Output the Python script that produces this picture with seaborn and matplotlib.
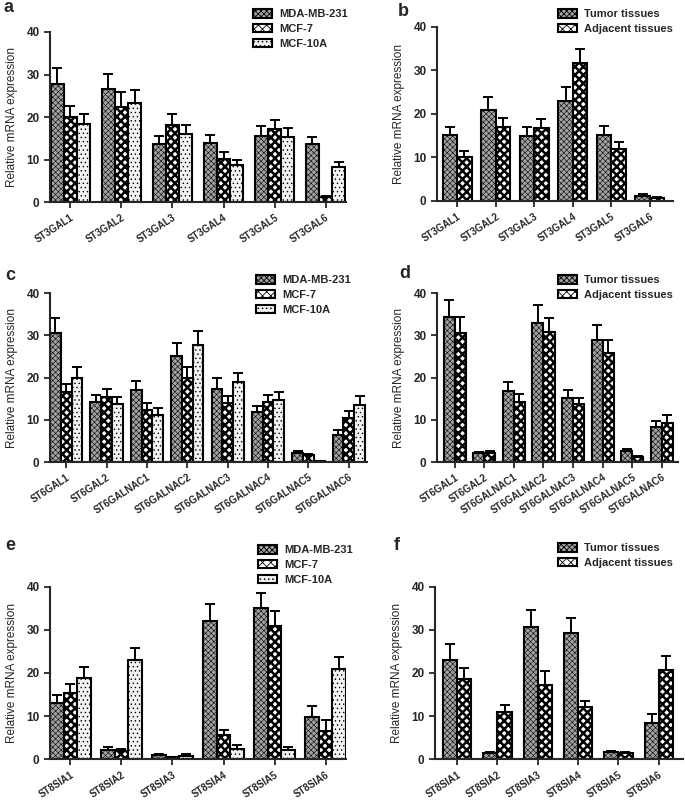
import numpy as np
import pandas as pd
import matplotlib
matplotlib.use("Agg")
import matplotlib.pyplot as plt
from matplotlib.patches import Patch
import seaborn as sns

sns.set_style("ticks")
plt.rcParams['font.family'] = ['Liberation Sans', 'DejaVu Sans']
plt.rcParams['hatch.linewidth'] = 0.6

# ---- data ----
st3 = ["ST3GAL1", "ST3GAL2", "ST3GAL3", "ST3GAL4", "ST3GAL5", "ST3GAL6"]
st6 = ["ST6GAL1", "ST6GAL2", "ST6GALNAC1", "ST6GALNAC2", "ST6GALNAC3",
       "ST6GALNAC4", "ST6GALNAC5", "ST6GALNAC6"]
st8 = ["ST8SIA1", "ST8SIA2", "ST8SIA3", "ST8SIA4", "ST8SIA5", "ST8SIA6"]

cells = ["MDA-MB-231", "MCF-7", "MCF-10A"]
tissues = ["Tumor tissues", "Adjacent tissues"]

# panel a
mda_a = [27.7, 26.5, 13.6, 14.0, 15.6, 13.6]
mda_a_err = [3.8, 3.7, 2.0, 1.8, 2.2, 1.8]
mcf7_a = [20.1, 22.4, 18.1, 10.2, 17.1, 1.1]
mcf7_a_err = [2.4, 3.4, 2.5, 1.5, 2.3, 0.4]
mcf10a_a = [18.3, 23.2, 16.0, 8.7, 15.4, 8.2]
mcf10a_a_err = [2.5, 3.2, 2.2, 1.3, 2.1, 1.1]

# panel b
tumor_b = [15.1, 20.9, 14.9, 22.9, 15.2, 1.2]
tumor_b_err = [2.0, 2.9, 2.2, 3.2, 2.1, 0.3]
adj_b = [10.2, 16.9, 16.7, 31.6, 12.0, 0.8]
adj_b_err = [1.4, 2.1, 2.1, 3.4, 1.6, 0.2]

# panel c
mda_c = [30.6, 14.1, 17.1, 25.0, 17.4, 11.8, 2.1, 6.3]
mda_c_err = [3.5, 1.8, 2.1, 3.1, 2.4, 1.5, 0.4, 1.2]
mcf7_c = [16.5, 15.4, 12.3, 20.0, 13.9, 14.1, 1.7, 10.5]
mcf7_c_err = [2.0, 1.9, 1.7, 2.4, 1.7, 1.7, 0.3, 1.5]
mcf10a_c = [20.0, 13.7, 11.2, 27.6, 18.9, 14.8, 0.3, 13.6]
mcf10a_c_err = [2.6, 1.8, 1.6, 3.3, 2.2, 1.7, 0.0, 2.0]

# panel d
tumor_d = [34.3, 2.1, 16.7, 32.9, 15.2, 28.8, 2.5, 8.2]
tumor_d_err = [4.1, 0.3, 2.2, 4.3, 1.8, 3.7, 0.6, 1.4]
adj_d = [30.5, 2.2, 14.3, 30.7, 13.7, 25.7, 1.2, 9.3]
adj_d_err = [3.8, 0.3, 1.9, 3.3, 1.5, 3.1, 0.2, 1.9]

# panel e
mda_e = [13.0, 2.1, 0.9, 32.1, 35.2, 9.8]
mda_e_err = [1.8, 0.8, 0.3, 3.9, 3.4, 2.6]
mcf7_e = [15.4, 1.9, 0.4, 5.6, 31.0, 6.5]
mcf7_e_err = [2.0, 0.5, 0.1, 1.2, 3.5, 2.5]
mcf10a_e = [18.8, 23.0, 0.6, 2.3, 2.1, 20.9]
mcf10a_e_err = [2.6, 2.8, 0.5, 1.0, 0.8, 2.8]

# panel f
tumor_f = [23.1, 1.3, 30.7, 29.2, 1.6, 8.4]
tumor_f_err = [3.7, 0.3, 3.9, 3.6, 0.3, 2.0]
adj_f = [18.7, 10.9, 17.3, 12.0, 1.3, 20.7]
adj_f_err = [2.4, 1.7, 3.1, 1.5, 0.3, 3.3]

# bar looks: (facecolor, hatch)
styles = {
    "MDA-MB-231": ("#a2a2a2", "xxxxxx"),
    "Tumor tissues": ("#a2a2a2", "xxxxxx"),
    "MCF-7": ("white", "xxxx"),
    "Adjacent tissues": ("white", "xxxx"),
    "MCF-10A": ("#f2f2f2", "...."),
}
hatch_lw = {"xxxxxx": 0.4, "xxxx": 1.8, "....": 0.5}


def style_bar(p, name):
    fc, h = styles[name]
    p.set_facecolor(fc)
    p.set_hatch(h)
    p.set_edgecolor("black")
    p.set_linewidth(1.5)
    if hasattr(p, "set_hatch_linewidth"):
        p.set_hatch_linewidth(hatch_lw[h])


def draw_panel(ax, cats, groups, values, errs, width, xlim):
    df = pd.DataFrame({
        "gene": np.tile(cats, len(groups)),
        "group": np.repeat(groups, len(cats)),
        "value": np.concatenate(values),
    })
    sns.barplot(data=df, x="gene", y="value", hue="group", order=cats,
                hue_order=groups, errorbar=None, width=width, legend=False,
                ax=ax)
    for cont, name, err in zip(ax.containers, groups, errs):
        xs = [b.get_x() + b.get_width() / 2 for b in cont]
        ys = [b.get_height() for b in cont]
        for b in cont:
            style_bar(b, name)
        ax.errorbar(xs, ys, yerr=[np.zeros(len(err)), err], fmt="none",
                    ecolor="black", elinewidth=1.4, capsize=3.5, capthick=1.4,
                    zorder=1)
    ax.set_ylim(0, 40)
    ax.set_yticks([0, 10, 20, 30, 40])
    ax.set_xlim(*xlim)
    ax.set_xlabel("")
    ax.set_ylabel("Relative mRNA expression", fontsize=8.5, labelpad=6)
    sns.despine(ax=ax)
    for s in ["left", "bottom"]:
        ax.spines[s].set_linewidth(1.5)
    ax.tick_params(axis="both", width=1.3, length=4, labelsize=8.5)
    for t in ax.get_yticklabels():
        t.set_fontweight("bold")
    ax.set_xticks(range(len(cats)))
    ax.set_xticklabels(cats, rotation=33, ha="right", rotation_mode="anchor",
                       fontsize=7, fontweight="bold")
    for b in ax.patches:
        b.set_zorder(2)


def add_legend(fig, groups, x, y):
    handles = []
    for g in groups:
        p = Patch(label=g)
        style_bar(p, g)
        handles.append(p)
    fig.legend(handles=handles, loc="upper left",
               bbox_to_anchor=(x / 685, 1 - y / 802), frameon=False,
               borderpad=0, borderaxespad=0, handlelength=1.75,
               handleheight=0.8, handletextpad=0.6, labelspacing=0.42,
               prop={"size": 8, "weight": "bold"})


fig = plt.figure(figsize=(6.85, 8.02), dpi=100)

ax_a = fig.add_axes([0.0730, 0.7481, 0.4321, 0.2120])
draw_panel(ax_a, st3, cells, [mda_a, mcf7_a, mcf10a_a],
           [mda_a_err, mcf7_a_err, mcf10a_a_err], 0.78, (-0.4, 5.4))
ax_b = fig.add_axes([0.6380, 0.7494, 0.3445, 0.2170])
draw_panel(ax_b, st3, tissues, [tumor_b, adj_b],
           [tumor_b_err, adj_b_err], 0.75, (-0.52, 5.6))
ax_c = fig.add_axes([0.0730, 0.4239, 0.4628, 0.2107])
draw_panel(ax_c, st6, cells, [mda_c, mcf7_c, mcf10a_c],
           [mda_c_err, mcf7_c_err, mcf10a_c_err], 0.8, (-0.4, 7.45))
ax_d = fig.add_axes([0.6380, 0.4239, 0.3518, 0.2107])
draw_panel(ax_d, st6, tissues, [tumor_d, adj_d],
           [tumor_d_err, adj_d_err], 0.75, (-0.6, 7.55))
ax_e = fig.add_axes([0.0730, 0.0536, 0.4321, 0.2145])
draw_panel(ax_e, st8, cells, [mda_e, mcf7_e, mcf10a_e],
           [mda_e_err, mcf7_e_err, mcf10a_e_err], 0.8, (-0.4, 5.4))
ax_f = fig.add_axes([0.6350, 0.0536, 0.3620, 0.2145])
draw_panel(ax_f, st8, tissues, [tumor_f, adj_f],
           [tumor_f_err, adj_f_err], 0.7, (-0.55, 5.6))

add_legend(fig, cells, 253, 9)
add_legend(fig, tissues, 558, 9)
add_legend(fig, cells, 256, 275)
add_legend(fig, tissues, 558, 275)
add_legend(fig, cells, 258, 545)
add_legend(fig, tissues, 558, 543)

for letter, x, y in [("a", 4, 8), ("b", 398, 11), ("c", 5, 275),
                     ("d", 399, 273), ("e", 5, 545), ("f", 394, 545)]:
    fig.text(x / 685, 1 - y / 802, letter, fontsize=13, fontweight="bold",
             va="center", ha="left")

fig.savefig("out.png", dpi=100)
